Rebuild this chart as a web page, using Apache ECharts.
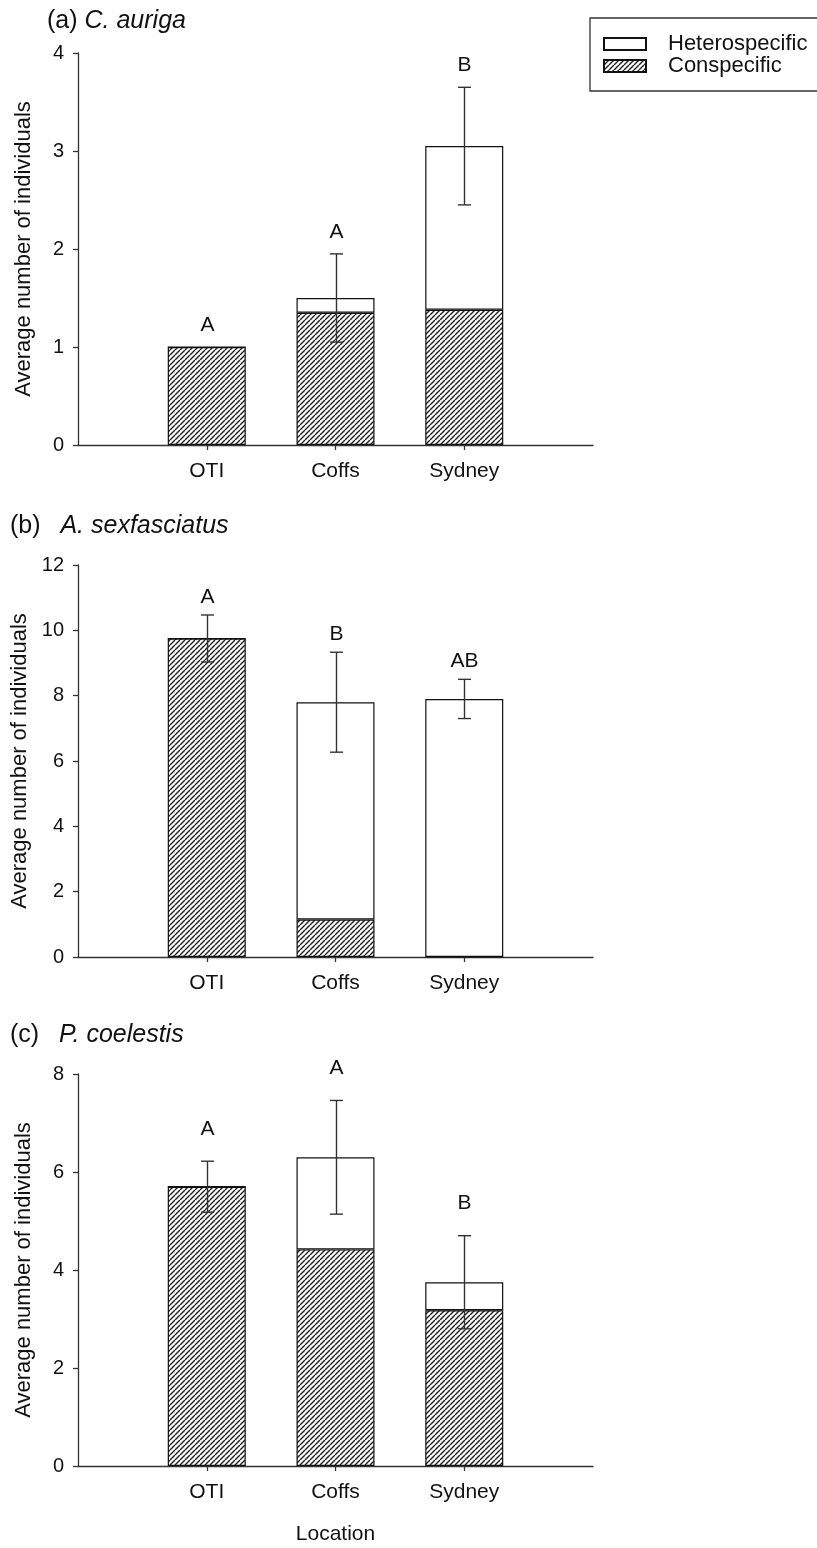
<!DOCTYPE html>
<html>
<head>
<meta charset="utf-8">
<script src="https://cdn.jsdelivr.net/npm/echarts@6/dist/echarts.min.js"></script>
<style>
  html, body { margin: 0; padding: 0; background: #fff; }
  #main { width: 817px; height: 1548px; }
</style>
</head>
<body>
<div id="main"></div>
<script>
// data
var categories = ['OTI', 'Coffs', 'Sydney'];

var consA = [1.0, 1.35, 1.38];
var totalA = [1.0, 1.5, 3.05];
var errA = [0, 0.45, 0.6];
var lettersA = ['A', 'A', 'B'];

var consB = [9.75, 1.15, 0];
var totalB = [9.75, 7.8, 7.9];
var errB = [0.72, 1.53, 0.6];
var lettersB = ['A', 'B', 'AB'];

var consC = [5.7, 4.42, 3.18];
var totalC = [5.7, 6.3, 3.75];
var errC = [0.52, 1.16, 0.95];
var lettersC = ['A', 'A', 'B'];

var yMaxA = 4, yStepA = 1;
var yMaxB = 12, yStepB = 2;
var yMaxC = 8, yStepC = 2;

// 斜线填充
function makeHatch() {
  var s = 5;
  var c = document.createElement('canvas');
  c.width = s; c.height = s;
  var ctx = c.getContext('2d');
  ctx.fillStyle = '#fff';
  ctx.fillRect(0, 0, s, s);
  ctx.strokeStyle = '#222';
  ctx.lineWidth = 1.4;
  for (var k = -1; k <= 1; k++) {
    ctx.beginPath();
    ctx.moveTo(k * s, s);
    ctx.lineTo(k * s + s, 0);
    ctx.stroke();
  }
  return c;
}
var hatch = { image: makeHatch(), repeat: 'repeat' };

var font = '"Liberation Sans", Arial, sans-serif';
var xData = [''].concat(categories, ['']);

function pad(arr) { return ['-'].concat(arr, ['-']); }
function diff(a, b) {
  return a.map(function (v, i) { return Math.round((v - b[i]) * 100) / 100; });
}

function errRender(letters, offset) {
  return function (params, api) {
    var i = params.dataIndex;
    var top = api.coord([api.value(0), api.value(1) + api.value(2)]);
    var bot = api.coord([api.value(0), api.value(1) - api.value(2)]);
    var x = Math.round(top[0]) + 0.5;
    var kids = [];
    if (api.value(2) > 0) {
      var ls = { stroke: '#333', lineWidth: 1.4 };
      kids.push({ type: 'line', shape: { x1: x, y1: top[1], x2: x, y2: bot[1] }, style: ls });
      kids.push({ type: 'line', shape: { x1: x - 6.5, y1: top[1], x2: x + 6.5, y2: top[1] }, style: ls });
      kids.push({ type: 'line', shape: { x1: x - 6.5, y1: bot[1], x2: x + 6.5, y2: bot[1] }, style: ls });
    }
    kids.push({
      type: 'text', x: x, y: top[1] - offset,
      style: { text: letters[i], fill: '#111', fontSize: 21, fontFamily: font, align: 'center', verticalAlign: 'middle' }
    });
    return { type: 'group', children: kids };
  };
}

var panels = [
  { top: 53, cons: consA, total: totalA, err: errA, letters: lettersA, max: yMaxA, step: yStepA, off: 22 },
  { top: 565, cons: consB, total: totalB, err: errB, letters: lettersB, max: yMaxB, step: yStepB, off: 18 },
  { top: 1074, cons: consC, total: totalC, err: errC, letters: lettersC, max: yMaxC, step: yStepC, off: 32 }
];

var grids = [], xAxes = [], yAxes = [], series = [];
panels.forEach(function (p, k) {
  grids.push({ left: 78, top: p.top, width: 515, height: 392, outerBoundsMode: 'none' });
  xAxes.push({
    type: 'category', gridIndex: k, data: xData, boundaryGap: false,
    axisLine: { lineStyle: { color: '#333', width: 1.3 } },
    axisTick: { length: 5, interval: function (i) { return i >= 1 && i <= 3; }, lineStyle: { color: '#333', width: 1.3 } },
    axisLabel: { interval: 0, margin: 16, fontSize: 21, color: '#111', fontFamily: font },
    name: k === 2 ? 'Location' : '', nameLocation: 'middle', nameGap: 58,
    nameTextStyle: { fontSize: 21, color: '#111', fontFamily: font }
  });
  yAxes.push({
    type: 'value', gridIndex: k, min: 0, max: p.max, interval: p.step,
    axisLine: { show: true, lineStyle: { color: '#333', width: 1.3 } },
    axisTick: { show: true, length: 5, lineStyle: { color: '#333', width: 1.3 } },
    splitLine: { show: false },
    axisLabel: { margin: 14, fontSize: 20, color: '#111', fontFamily: font },
    name: 'Average number of individuals', nameLocation: 'middle', nameGap: 43,
    nameTextStyle: { fontSize: 22, color: '#111', fontFamily: font }
  });
  series.push({
    name: 'Conspecific', type: 'bar', xAxisIndex: k, yAxisIndex: k, stack: 's' + k,
    barWidth: 78, data: pad(p.cons),
    itemStyle: { color: hatch, borderColor: '#111', borderWidth: 1.2 }
  });
  series.push({
    name: 'Heterospecific', type: 'bar', xAxisIndex: k, yAxisIndex: k, stack: 's' + k,
    barWidth: 78, data: pad(diff(p.total, p.cons)),
    itemStyle: { color: '#fff', borderColor: '#111', borderWidth: 1.2 }
  });
  series.push({
    type: 'custom', xAxisIndex: k, yAxisIndex: k, z: 10,
    renderItem: errRender(p.letters, p.off),
    data: categories.map(function (c, i) { return [i + 1, p.total[i], p.err[i]]; })
  });
});

var myChart = echarts.init(document.getElementById('main'));
var titleStyle = { fontSize: 25, fontWeight: 'normal', color: '#111', fontFamily: font,
  rich: {
    i: { fontSize: 25, fontStyle: 'italic', color: '#111', fontFamily: font },
    j: { fontSize: 25, fontStyle: 'italic', color: '#111', fontFamily: font, padding: [0, 0, 0, 6] }
  } };

var option = {
  animation: false,
  backgroundColor: '#fff',
  title: [
    { text: '(a) {i|C. auriga}', left: 47, top: 9, padding: 0, textStyle: titleStyle },
    { text: '(b)  {j|A. sexfasciatus}', left: 10, top: 514, padding: 0, textStyle: titleStyle },
    { text: '(c)  {j|P. coelestis}', left: 10, top: 1023, padding: 0, textStyle: titleStyle }
  ],
  legend: {
    orient: 'vertical', left: 590, top: 18,
    padding: [15, 60, 14, 13], itemGap: 0,
    itemWidth: 42, itemHeight: 12, icon: 'rect',
    borderColor: '#333', borderWidth: 1.3,
    data: ['Heterospecific', 'Conspecific'],
    textStyle: { fontSize: 22, lineHeight: 21, color: '#111', fontFamily: font, padding: [0, 0, 0, 17] }
  },
  grid: grids,
  xAxis: xAxes,
  yAxis: yAxes,
  series: series
};

myChart.setOption(option);
</script>
</body>
</html>
